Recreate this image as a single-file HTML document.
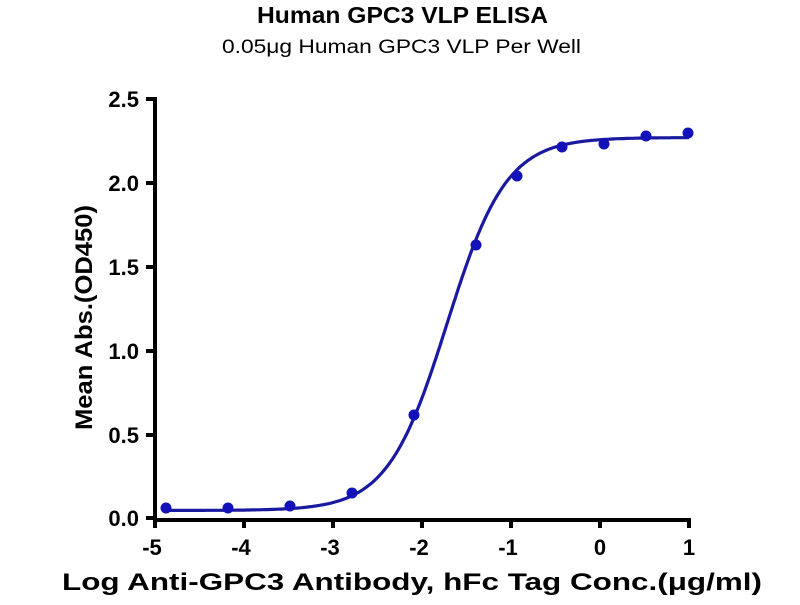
<!DOCTYPE html>
<html><head><meta charset="utf-8"><style>
body{margin:0;background:#fff;width:800px;height:600px;overflow:hidden}
text{font-family:"Liberation Sans",Arial,sans-serif}
</style></head><body>
<svg id="s" width="800" height="600" xmlns="http://www.w3.org/2000/svg">
<text x="257" y="23" textLength="291" lengthAdjust="spacingAndGlyphs" font-size="23" font-weight="bold">Human GPC3 VLP ELISA</text>
<text x="222" y="53" textLength="359" lengthAdjust="spacingAndGlyphs" font-size="19">0.05μg Human GPC3 VLP Per Well</text>
<g stroke="#000" stroke-width="4" fill="none">
<path d="M155,97 V520 H691"/>
<path d="M146,99H155M146,183H155M146,267H155M146,351H155M146,435H155M146,518H155"/>
<path d="M155,518V528M244,518V528M333,518V528M422,518V528M511,518V528M600,518V528M689,518V528"/>
</g>
<g font-size="22" font-weight="bold" text-anchor="end">
<text x="139" y="107">2.5</text><text x="139" y="191">2.0</text><text x="139" y="275">1.5</text>
<text x="139" y="359">1.0</text><text x="139" y="443">0.5</text><text x="139" y="526">0.0</text>
</g>
<g font-size="22" font-weight="bold" text-anchor="middle">
<text x="152" y="555">-5</text><text x="241" y="555">-4</text><text x="330" y="555">-3</text><text x="419" y="555">-2</text><text x="508" y="555">-1</text><text x="600" y="555">0</text><text x="689" y="555">1</text>
</g>
<text x="62" y="590" textLength="700" lengthAdjust="spacingAndGlyphs" font-size="24" font-weight="bold">Log Anti-GPC3 Antibody, hFc Tag Conc.(μg/ml)</text>
<text transform="translate(92,430) rotate(-90)" textLength="225" lengthAdjust="spacingAndGlyphs" font-size="24" font-weight="bold">Mean Abs.(OD450)</text>
<path id="c" fill="none" stroke="#1a1aa0" stroke-width="3.2"/>
<g fill="#1212b8">
<circle cx="166" cy="508" r="5.5"/><circle cx="228" cy="508" r="5.5"/><circle cx="290" cy="506" r="5.5"/>
<circle cx="352" cy="493" r="5.5"/><circle cx="414" cy="415" r="5.5"/><circle cx="476" cy="245" r="5.5"/>
<circle cx="517" cy="176" r="5.5"/><circle cx="562" cy="147" r="5.5"/><circle cx="604" cy="144" r="5.5"/>
<circle cx="646" cy="136" r="5.5"/><circle cx="688" cy="133" r="5.5"/>
</g>
</svg>
<script>
var d="";for(var i=0;i<=300;i++){var x=-4.88+i*(5.88/300);var v=0.045+2.225/(1+Math.pow(10,(-1.72-x)*1.3));
var px=155+(x+5)*89,py=518-v*167.6;d+=(i?"L":"M")+px.toFixed(1)+","+py.toFixed(1);}
document.getElementById("c").setAttribute("d",d);
</script>
</body></html>
